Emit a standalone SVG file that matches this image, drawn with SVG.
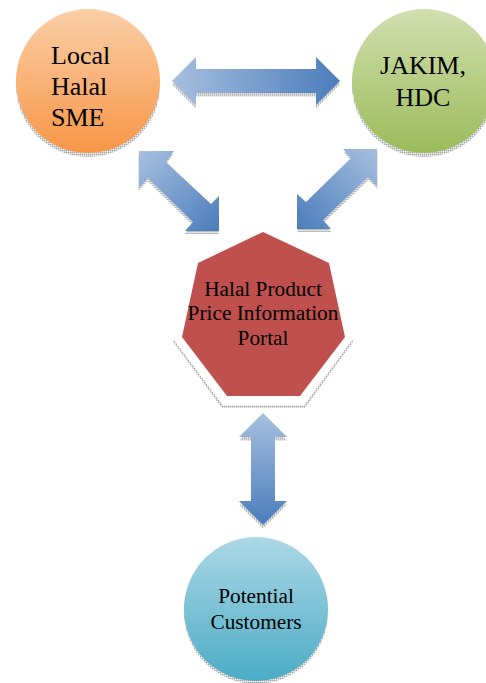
<svg xmlns="http://www.w3.org/2000/svg" width="486" height="683" viewBox="0 0 486 683">
<style>
text{font-family:"Liberation Serif","Times New Roman",serif;fill:#000}
.lg{font-size:26px}
.sm{font-size:21.3px;text-anchor:middle}
.sh{fill:url(#dots)}
</style>
<defs>
<pattern id="dots" width="2" height="2" patternUnits="userSpaceOnUse">
<rect width="2" height="2" fill="#d0d0d0"/>
<rect width="1" height="1" fill="#a6a6a6"/>
<rect x="1" y="1" width="1" height="1" fill="#efefef"/>
</pattern>
<linearGradient id="orange" x1="0" y1="0" x2="0" y2="1"><stop offset="0" stop-color="#fbcfa8"/><stop offset="1" stop-color="#f79646"/></linearGradient>
<linearGradient id="green" x1="0" y1="0" x2="0" y2="1"><stop offset="0" stop-color="#d2dfb0"/><stop offset="1" stop-color="#9bbb59"/></linearGradient>
<linearGradient id="teal" x1="0" y1="0" x2="0" y2="1"><stop offset="0" stop-color="#acd8e5"/><stop offset="1" stop-color="#4bacc6"/></linearGradient>
<linearGradient id="bh" x1="0" y1="0" x2="1" y2="0"><stop offset="0" stop-color="#a7bfdf"/><stop offset="1" stop-color="#4a7dbb"/></linearGradient>
<linearGradient id="bv" x1="0" y1="0" x2="0" y2="1"><stop offset="0" stop-color="#a7bfdf"/><stop offset="1" stop-color="#4a7dbb"/></linearGradient>
<linearGradient id="bd1" x1="0" y1="0" x2="1" y2="1"><stop offset="0" stop-color="#a7bfdf"/><stop offset="1" stop-color="#4a7dbb"/></linearGradient>
<linearGradient id="bd2" x1="1" y1="0" x2="0" y2="1"><stop offset="0" stop-color="#a7bfdf"/><stop offset="1" stop-color="#4a7dbb"/></linearGradient>
<polygon id="a1" points="172,81 196,57 196,69 316,69 316,57 340,81 316,105 316,93 196,93 196,105"/>
<polygon id="a2" points="139,151 174,151 166,162 211,204 219,196 219,231 185,231 193,222 148,178 139,188"/>
<polygon id="a3" points="377,149 343,149 351,158 306,202 297,194 297,229 331,229 323,220 368,177 377,186"/>
<polygon id="a4" points="263,413 287,437 275,437 275,501 287,501 263,525 239,501 251,501 251,437 239,437"/>
</defs>
<rect width="486" height="683" fill="#fff"/>
<g id="connectors">
<g id="arrow-sme-jakim"><use href="#a1" class="sh" y="3.500"/><use href="#a1" fill="url(#bh)"/></g>
<g id="arrow-sme-portal"><use href="#a2" class="sh" x="-0.5" y="3"/><use href="#a2" fill="url(#bd1)"/></g>
<g id="arrow-jakim-portal"><use href="#a3" class="sh" x="0.5" y="3"/><use href="#a3" fill="url(#bd2)"/></g>
<g id="arrow-portal-customers"><use href="#a4" class="sh" y="3.500"/><use href="#a4" fill="url(#bv)"/></g>
</g>
<g id="node-sme">
<circle class="sh" cx="88" cy="85" r="72"/>
<circle cx="88" cy="81" r="72" fill="url(#orange)"/>
<text class="lg" x="51" y="64">Local</text>
<text class="lg" x="51" y="95">Halal</text>
<text class="lg" x="51" y="126">SME</text>
</g>
<g id="node-jakim">
<circle class="sh" cx="424" cy="85" r="72"/>
<circle cx="424" cy="81" r="72" fill="url(#green)"/>
<text class="lg" x="423" y="74" text-anchor="middle">JAKIM,</text>
<text class="lg" x="423" y="106" text-anchor="middle">HDC</text>
</g>
<g id="node-portal">
<polygon class="sh" points="172.500,341 222,408 305,408 353.500,341 352,340 304,405.500 223,405.500 174,340"/>
<polygon points="263,232 329,263 345,337 300,396 227,396 182,337 198,263" fill="#c0504d"/>
<text class="sm" x="263" y="296">Halal Product</text>
<text class="sm" x="263" y="320">Price Information</text>
<text class="sm" x="263" y="345">Portal</text>
</g>
<g id="node-customers">
<circle class="sh" cx="256" cy="612" r="72"/>
<circle cx="256" cy="609" r="72" fill="url(#teal)"/>
<text class="sm" x="256" y="603">Potential</text>
<text class="sm" x="256" y="629">Customers</text>
</g>
</svg>
